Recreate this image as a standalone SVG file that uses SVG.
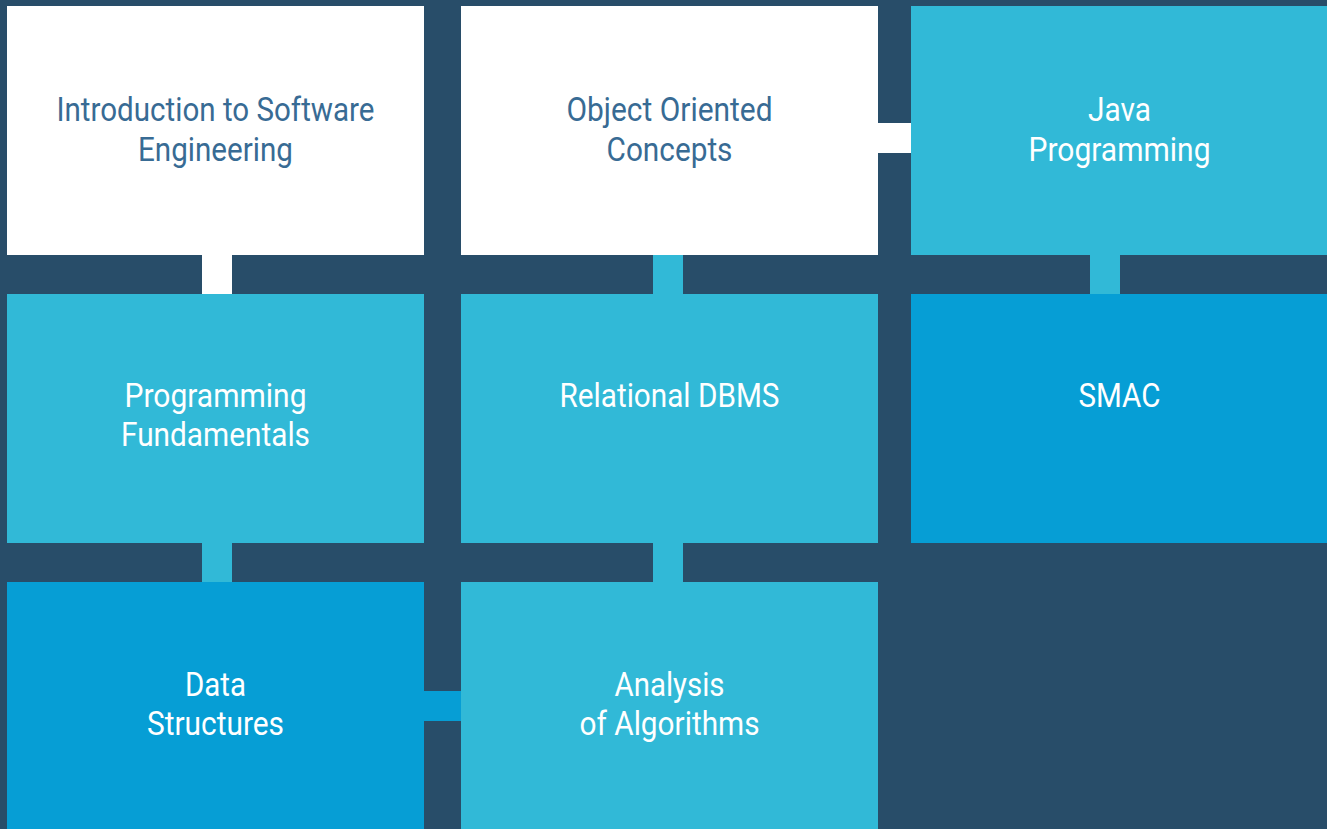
<svg xmlns="http://www.w3.org/2000/svg" width="1327" height="829" viewBox="0 0 1327 829">
<style>
.bg{fill:#284d69}
.white{fill:#ffffff}
.cyan{fill:#31b9d7}
.blue{fill:#069ed5}
text{font-family:Roboto,"Liberation Sans",sans-serif;font-size:33.5px;text-anchor:middle}
.dark{fill:#386b94}
.light{fill:#ffffff}
</style>
<rect class="bg" x="0" y="0" width="1327" height="829"/>
<g id="connectors">
<rect class="white" x="202" y="254" width="30" height="41"/>
<rect class="cyan" x="653" y="254" width="30" height="41"/>
<rect class="white" x="877" y="123" width="35" height="30"/>
<rect class="cyan" x="1090" y="254" width="30" height="41"/>
<rect class="cyan" x="202" y="542" width="30" height="41"/>
<rect class="cyan" x="653" y="542" width="30" height="41"/>
<rect class="blue" x="423" y="691" width="39" height="30"/>
</g>
<g id="intro">
<rect class="white" x="7" y="6" width="417" height="249"/>
<text class="dark" x="215.5" y="121.3" textLength="318" lengthAdjust="spacingAndGlyphs">Introduction to Software</text>
<text class="dark" x="215.5" y="160.5" textLength="155" lengthAdjust="spacingAndGlyphs">Engineering</text>
</g>
<g id="ooc">
<rect class="white" x="461" y="6" width="417" height="249"/>
<text class="dark" x="669.5" y="121.3" textLength="206" lengthAdjust="spacingAndGlyphs">Object Oriented</text>
<text class="dark" x="669.5" y="160.5" textLength="126" lengthAdjust="spacingAndGlyphs">Concepts</text>
</g>
<g id="java">
<rect class="cyan" x="911" y="6" width="416" height="249"/>
<text class="light" x="1119.5" y="121.3" textLength="63" lengthAdjust="spacingAndGlyphs">Java</text>
<text class="light" x="1119.5" y="160.5" textLength="182" lengthAdjust="spacingAndGlyphs">Programming</text>
</g>
<g id="progfund">
<rect class="cyan" x="7" y="294" width="417" height="249"/>
<text class="light" x="215.5" y="407.3" textLength="182" lengthAdjust="spacingAndGlyphs">Programming</text>
<text class="light" x="215.5" y="446.3" textLength="189" lengthAdjust="spacingAndGlyphs">Fundamentals</text>
</g>
<g id="rdbms">
<rect class="cyan" x="461" y="294" width="417" height="249"/>
<text class="light" x="669.5" y="407.3" textLength="220" lengthAdjust="spacingAndGlyphs">Relational DBMS</text>
</g>
<g id="smac">
<rect class="blue" x="911" y="294" width="416" height="249"/>
<text class="light" x="1119.5" y="407.3" textLength="82" lengthAdjust="spacingAndGlyphs">SMAC</text>
</g>
<g id="ds">
<rect class="blue" x="7" y="582" width="417" height="247"/>
<text class="light" x="215.5" y="696" textLength="61" lengthAdjust="spacingAndGlyphs">Data</text>
<text class="light" x="215.5" y="735.3" textLength="137" lengthAdjust="spacingAndGlyphs">Structures</text>
</g>
<g id="analysis">
<rect class="cyan" x="461" y="582" width="417" height="247"/>
<text class="light" x="669.5" y="696" textLength="110" lengthAdjust="spacingAndGlyphs">Analysis</text>
<text class="light" x="669.5" y="735.3" textLength="180" lengthAdjust="spacingAndGlyphs">of Algorithms</text>
</g>
</svg>
